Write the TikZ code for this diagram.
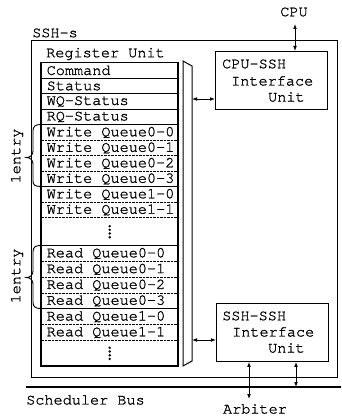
\documentclass[tikz,border=0pt]{standalone}
\usepackage{fontspec}
\setmainfont{TeX Gyre Cursor}[FakeBold=1.2]
\usetikzlibrary{arrows.meta,calc}
\tikzset{
  lbl/.style={font=\fontsize{15.2}{15.2}\selectfont, inner sep=0pt},
  cell/.style={inner sep=0pt, minimum width=137pt, minimum height=15.5pt, anchor=north west},
  rqcell/.style={cell, minimum height=15.8pt},
  celltext/.style={lbl, anchor=west},
  sepsolid/.style={line width=0.6pt},
  sepdash/.style={line width=0.6pt, dash pattern=on 2.5pt off 1pt},
  septhick/.style={line width=1.1pt},
  unitbox/.style={draw, line width=0.9pt, minimum width=112pt, minimum height=58pt, anchor=north west, inner sep=0pt},
  dbl/.style={line width=0.9pt, {Latex[length=5pt,width=3.8pt]}-{Latex[length=5pt,width=3.8pt]}},
  dotmark/.style={fill=black, draw=none},
}
\begin{document}
\begin{tikzpicture}[x=1pt,y=-1pt]
\useasboundingbox (0,0) rectangle (341,419);
% outer SSH-s box
\draw[line width=0.9pt] (31,40) rectangle (337,377);
\node[lbl, anchor=west] (sshs) at (32,33) {SSH-s};
\node[lbl, anchor=west] (regu) at (46,54) {Register Unit};
% register rows
\foreach \t [count=\i from 0] in {Command,Status,WQ-Status,RQ-Status,Write Queue0-0,Write Queue0-1,Write Queue0-2,Write Queue0-3,Write Queue1-0,Write Queue1-1}{
  \node[cell] (w\i) at (41,{62.5+\i*15.5}) {};
  \node[celltext] (wt\i) at ($(w\i.west)+(5.5,0)$) {\t};
}
\node[cell, minimum height=27.9pt] (dA) at (41,217.5) {};
\foreach \t [count=\i from 0] in {Read Queue0-0,Read Queue0-1,Read Queue0-2,Read Queue0-3,Read Queue1-0,Read Queue1-1}{
  \node[rqcell] (r\i) at (41,{245.4+\i*15.8}) {};
  \node[celltext] (rt\i) at ($(r\i.west)+(5.5,0)$) {\t};
}
\node[cell, minimum height=25.8pt] (dB) at (41,340.2) {};
% separators
\foreach \i in {1,2,3,4}{ \draw[sepsolid] (w\i.north west) -- (w\i.north east); }
\foreach \i in {5,6,7,9}{ \draw[sepdash] (w\i.north west) -- (w\i.north east); }
\draw[septhick] (w8.north west) -- (w8.north east);
\draw[sepdash] (dA.north west) -- (dA.north east);
\draw[septhick] (r0.north west) -- (r0.north east);
\foreach \i in {1,2,3,5}{ \draw[sepdash] (r\i.north west) -- (r\i.north east); }
\draw[septhick] (r4.north west) -- (r4.north east);
\draw[sepdash] (dB.north west) -- (dB.north east);
% table border
\draw[line width=1.3pt] (41,62.5) rectangle (178,366);
% vertical dots
\foreach \k in {0,1,2,3}{
  \fill[dotmark] ($(dA.center)+(0,{-5.5+\k*3.7})$) circle (1.35pt);
  \fill[dotmark] ($(dB.center)+(0,{-5.5+\k*3.7})$) circle (1.35pt);
}
% braces
\draw[line width=0.9pt] (41,124.5) .. controls (35,124.5) and (33,126.5) .. (33,131) -- (33,151)
  .. controls (33,155) and (30,157.5) .. (26.5,157.5) .. controls (30,157.5) and (33,160) .. (33,164)
  -- (33,181) .. controls (33,185) and (35,186.5) .. (41,186.5);
\draw[line width=0.9pt] (41,245.4) .. controls (35,245.4) and (33,247.4) .. (33,252) -- (33,271)
  .. controls (33,275) and (30,277.5) .. (26.5,277.5) .. controls (30,277.5) and (33,280) .. (33,284)
  -- (33,302) .. controls (33,306.5) and (35,308.6) .. (41,308.6);
\node[lbl, rotate=90] (e1) at (17,156) {1entry};
\node[lbl, rotate=90] (e2) at (17,276) {1entry};
% bus bar
\draw[line width=1pt] (183,61) -- (192,66) -- (192,361) -- (183,366) -- cycle;
\coordinate (barA) at (192,99);
\coordinate (barB) at (192,340);
% units
\node[unitbox] (cpuu) at (215,51) {};
\node[lbl, anchor=west] (c1) at (222,64) {CPU-SSH};
\node[lbl, anchor=west] (c2) at (231,81) {Interface};
\node[lbl, anchor=west] (c3) at (268,97) {Unit};
\node[unitbox] (sshu) at (216,303) {};
\node[lbl, anchor=west] (s1) at (222,316) {SSH-SSH};
\node[lbl, anchor=west] (s2) at (232,332) {Interface};
\node[lbl, anchor=west] (s3) at (268,348) {Unit};
% labels outside
\node[lbl] (cpu) at (294,12) {CPU};
\node[lbl] (arb) at (255,409) {Arbiter};
\node[lbl, anchor=west] (sbus) at (26,400) {Scheduler Bus};
\coordinate (busL) at (26,387);
\coordinate (busR) at (341,387);
\draw[line width=1.6pt] (busL) -- (busR);
% arrows
\draw[dbl] (barA) -- (cpuu.west |- barA);
\draw[dbl] (barB) -- (sshu.west |- barB);
\coordinate (cpuTop) at (295,24);
\draw[dbl] (cpuTop) -- (cpuu.north -| cpuTop);
\coordinate (arbTop) at (249,399);
\draw[dbl] (sshu.south -| arbTop) -- (arbTop);
\coordinate (busP) at (296,387);
\draw[dbl] (sshu.south -| busP) -- (busP);
\end{tikzpicture}
\end{document}
